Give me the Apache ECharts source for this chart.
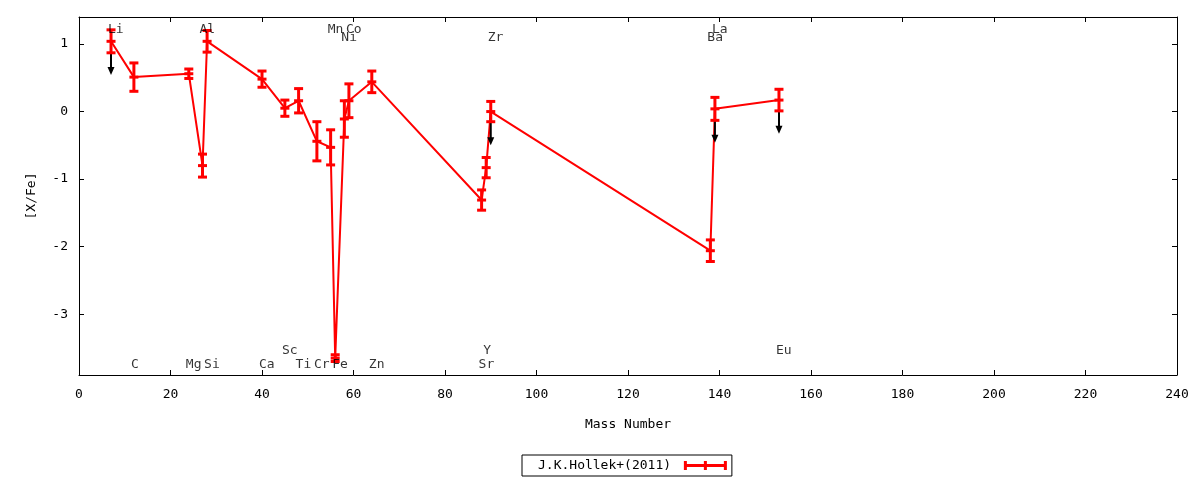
<!DOCTYPE html>
<html>
<head>
<meta charset="utf-8">
<script src="https://cdn.jsdelivr.net/npm/echarts@6/dist/echarts.min.js"></script>
<style>
  html, body { margin: 0; padding: 0; background: #fff; }
  #chart { width: 1200px; height: 480px; }
</style>
</head>
<body>
<div id="chart"></div>
<script>
// abundances: element, mass number, [X/Fe], error
const elements = ['Li', 'C', 'Mg', 'Al', 'Si', 'Ca', 'Sc', 'Ti', 'Cr', 'Mn', 'Fe', 'Ni', 'Co', 'Zn', 'Sr', 'Y', 'Zr', 'Ba', 'La', 'Eu'];
const massNumbers = [7, 12, 24, 27, 28, 40, 45, 48, 52, 55, 56, 58, 59, 64, 88, 89, 90, 138, 139, 153];
const abundances = [1.04, 0.51, 0.56, -0.80, 1.04, 0.48, 0.05, 0.16, -0.44, -0.53, -3.65, -0.11, 0.16, 0.44, -1.31, -0.83, 0.00, -2.06, 0.04, 0.17];
const errors = [0.17, 0.21, 0.07, 0.17, 0.16, 0.12, 0.12, 0.18, 0.29, 0.26, 0.05, 0.27, 0.25, 0.16, 0.15, 0.15, 0.15, 0.16, 0.17, 0.16];
// elements plotted as upper limits (down arrows)
const upperLimits = ['Li', 'Zr', 'La', 'Eu'];
const arrowLength = 0.5;
// row where each element name is written: 0/1 top rows, 2/3 bottom rows
const labelRows = [0, 2, 2, 0, 2, 2, 3, 2, 2, 0, 2, 1, 0, 2, 2, 3, 1, 1, 0, 3];
const labelRowY = [1.22, 1.09, -3.75, -3.54];
const yTicks = [-3, -2, -1, 0, 1];
const seriesName = 'J.K.Hollek+(2011)';

const RED = '#ff0000';
const FONT = 'DejaVu Sans Mono';

const points = massNumbers.map((m, i) => [m, abundances[i], errors[i]]);
const limitPoints = elements
  .map((el, i) => upperLimits.indexOf(el) >= 0 ? [massNumbers[i], abundances[i]] : null)
  .filter(p => p);
const labelPoints = elements.map((el, i) => ({ name: el, value: [massNumbers[i], labelRowY[labelRows[i]]] }));

const chart = echarts.init(document.getElementById('chart'));

const tickStyle = { inside: true, length: 5, lineStyle: { color: '#000', width: 1 } };
const axisLine = { show: true, onZero: false, lineStyle: { color: '#000', width: 1 } };

chart.setOption({
  animation: false,
  textStyle: { fontFamily: FONT, color: '#000' },
  grid: { left: 79, right: 23, top: 17, bottom: 105 },
  legend: {
    left: 522, top: 455,
    padding: [4, 5, 4, 16],
    borderColor: '#000', borderWidth: 1, borderRadius: 0,
    itemWidth: 43, itemHeight: 9,
    textStyle: { fontFamily: FONT, fontSize: 13, color: '#000' },
    formatter: name => name + ' ',
    align: 'right',
    data: [{
      name: seriesName,
      icon: 'path://M0,3h43v3h-43z M0,0h3v9h-3z M20,0h3v9h-3z M40,0h3v9h-3z',
      itemStyle: { color: RED }
    }]
  },
  xAxis: [{
    type: 'value', min: 0, max: 240, interval: 20,
    name: 'Mass Number', nameLocation: 'middle', nameGap: 43,
    nameTextStyle: { fontFamily: FONT, fontSize: 13, color: '#000' },
    axisLine: axisLine, axisTick: tickStyle, splitLine: { show: false },
    axisLabel: { margin: 13, fontFamily: FONT, fontSize: 13, color: '#000' }
  }, {
    type: 'value', position: 'top', min: 0, max: 240, interval: 20,
    axisLine: axisLine, axisTick: tickStyle, splitLine: { show: false },
    axisLabel: { show: false }
  }],
  yAxis: [{
    type: 'value', min: -3.9, max: 1.4,
    name: '[X/Fe]', nameLocation: 'middle', nameGap: 41,
    nameTextStyle: { fontFamily: FONT, fontSize: 13, color: '#000' },
    axisLine: axisLine,
    axisTick: Object.assign({ customValues: yTicks }, tickStyle),
    splitLine: { show: false },
    axisLabel: { customValues: yTicks, margin: 11, fontFamily: FONT, fontSize: 13, color: '#000' }
  }, {
    type: 'value', position: 'right', min: -3.9, max: 1.4,
    axisLine: axisLine,
    axisTick: Object.assign({ customValues: yTicks }, tickStyle),
    splitLine: { show: false },
    axisLabel: { show: false }
  }],
  series: [
    {
      name: seriesName,
      type: 'line',
      data: points.map(p => [p[0], p[1]]),
      showSymbol: false,
      symbol: 'none',
      itemStyle: { color: RED },
      lineStyle: { color: RED, width: 2 },
      z: 2
    },
    {
      // upper limit arrows
      type: 'custom',
      data: limitPoints,
      z: 3,
      renderItem: function (params, api) {
        const x = api.value(0), y = api.value(1);
        const start = api.coord([x, y]);
        const end = api.coord([x, y - arrowLength]);
        const headLen = 8, headHalf = 3.5;
        return {
          type: 'group',
          children: [{
            type: 'line',
            shape: { x1: start[0], y1: start[1], x2: end[0], y2: end[1] - headLen + 1 },
            style: { stroke: '#000', lineWidth: 2 }
          }, {
            type: 'polygon',
            shape: { points: [[end[0] - headHalf, end[1] - headLen], [end[0] + headHalf, end[1] - headLen], [end[0], end[1]]] },
            style: { fill: '#000' }
          }]
        };
      }
    },
    {
      // error bars with caps and centre tick
      type: 'custom',
      data: points,
      z: 4,
      renderItem: function (params, api) {
        const x = api.value(0), y = api.value(1), e = api.value(2);
        const top = api.coord([x, y + e]);
        const bot = api.coord([x, y - e]);
        const mid = api.coord([x, y]);
        const hw = 4.5;
        const st = { stroke: RED, lineWidth: 3 };
        const hline = yy => ({ type: 'line', shape: { x1: mid[0] - hw, y1: yy, x2: mid[0] + hw, y2: yy }, style: st });
        return {
          type: 'group',
          children: [
            { type: 'line', shape: { x1: mid[0], y1: top[1], x2: mid[0], y2: bot[1] }, style: st },
            hline(top[1]), hline(mid[1]), hline(bot[1])
          ]
        };
      }
    },
    {
      // element names
      type: 'scatter',
      data: labelPoints,
      symbolSize: 1,
      itemStyle: { color: 'rgba(0,0,0,0)' },
      silent: true,
      z: 5,
      label: {
        show: true,
        formatter: '{b}',
        position: 'inside',
        align: 'left',
        verticalAlign: 'middle',
        offset: [-3, 0],
        fontFamily: FONT,
        fontSize: 13,
        color: '#000'
      }
    }
  ]
});
</script>
</body>
</html>
